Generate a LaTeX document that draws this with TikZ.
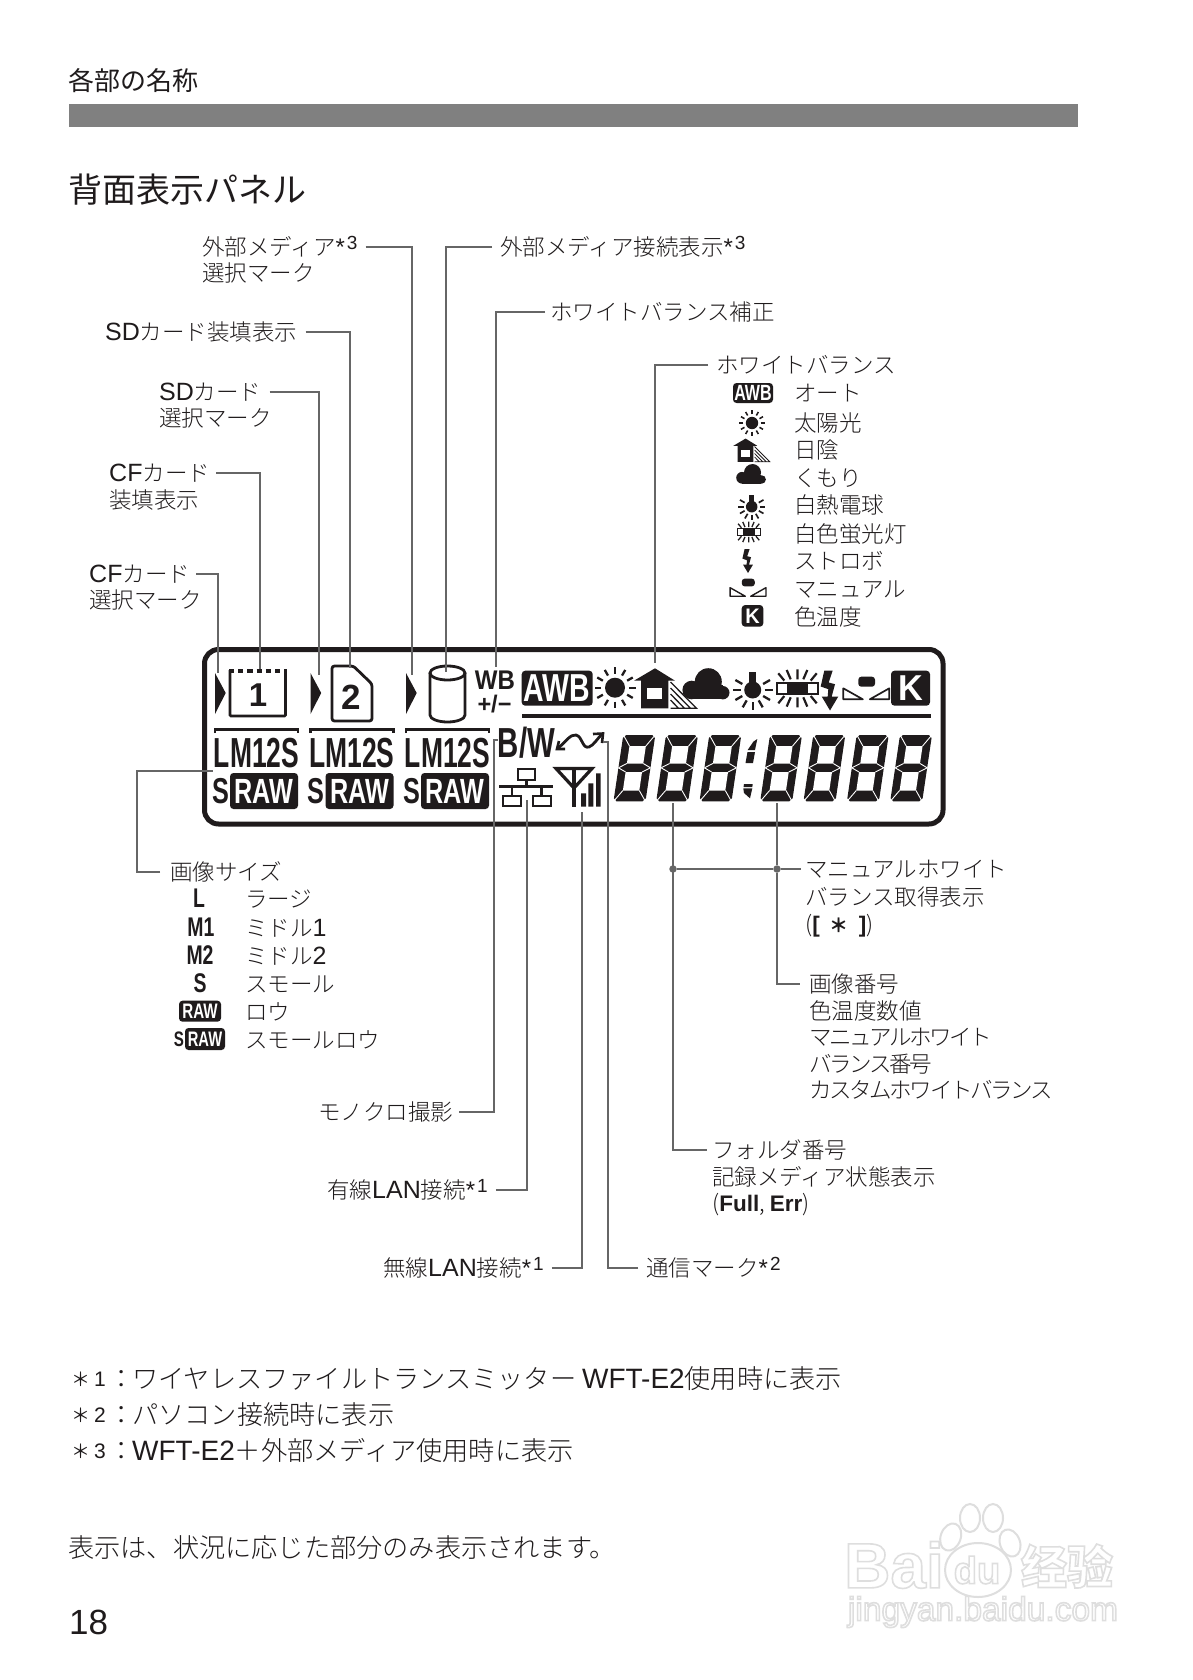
\documentclass[tikz,border=0pt]{standalone}
\usepackage{fontspec}
\usepackage{graphicx}
\usetikzlibrary{calc}
\setsansfont{Liberation Sans}
\newfontfamily\jp{Noto Sans CJK JP Light}
\newfontfamily\jpt[LetterSpace=-10.5]{Noto Sans CJK JP Light}
\newfontfamily\jpr{Noto Sans CJK JP}
\definecolor{conncol}{HTML}{666666}
\definecolor{ink}{HTML}{1F1B1C}
\definecolor{wm}{HTML}{DEDEDE}
\tikzset{
 lab/.style={anchor=west,inner sep=0pt,text height=19.8pt,text depth=2.7pt,text=ink,font=\jp\fontsize{22.5}{22.5}\selectfont},
 foot/.style={anchor=west,inner sep=0pt,text height=23pt,text depth=3.2pt,text=ink,font=\jp\fontsize{26.2}{26.2}\selectfont},
 conn/.style={draw=conncol,line width=1.5pt},
 jdot/.style={circle,fill=conncol,inner sep=0pt,minimum size=7.5pt},
 glyph/.style={inner sep=0pt,text=ink},
 wglyph/.style={inner sep=0pt,text=white},
}
\newcommand{\cond}[3]{\scalebox{#2}[1]{\fontsize{#1}{#1}\selectfont\sffamily\bfseries #3}}
\newcommand{\upn}[1]{{\sffamily\fontsize{24}{24}\selectfont *\hspace{2pt}\raisebox{.26em}{\fontsize{19}{19}\selectfont #1}}}
\newcommand{\lat}[1]{{\sffamily\fontsize{25}{25}\selectfont #1}}
\newcommand{\flatin}[1]{{\sffamily\fontsize{28}{28}\selectfont #1}}
\newcommand{\tbox}[7]{\fill[ink,rounded corners=3.5pt] (#1,#2) rectangle (#3,#4);
 \node[wglyph] at ({(#1+#3)/2},{(#2+#4)/2}) {\cond{#5}{#6}{#7}};}
\newcommand{\icsun}[3]{\begin{scope}[shift={(#1,#2)},scale=#3]
 \fill[ink] (0,0) circle (10);
 \foreach \a in {0,30,...,330}{\draw[ink,line width={2pt*#3+.3pt}] (\a:14)--(\a:20.5);}
 \end{scope}}
\newcommand{\ichouse}[3]{\begin{scope}[shift={(#1,#2)},scale=#3]
 \fill[ink] (-10.5,-19.7)--(9.5,-7.3)--(2.8,-7.3)--(2.8,20.3)--(-24.5,20.3)--(-24.5,-7.3)--(-31.5,-7.3)--cycle;
 \fill[white] (-18.2,-.3) rectangle (-3.8,11.3);
 \draw[ink,line width={1.1pt*#3+.2pt}] (5,-6)--(31,20.3)--(5,20.3) (5,0)--(25,20.3) (5,6)--(19,20.3) (5,12)--(13,20.3);
 \end{scope}}
\newcommand{\iccloud}[3]{\begin{scope}[shift={(#1,#2)},scale=#3]
 \fill[ink] (1.3,-2.3) circle (13.5) (-15.3,6) circle (9.3) (15.8,8.7) circle (6.7);
 \fill[ink] (-15,1) rectangle (15.5,15.3);
 \end{scope}}
\newcommand{\icbulb}[3]{\begin{scope}[shift={(#1,#2)},scale=#3]
 \fill[ink] (0,0) circle (8.5);
 \fill[ink] (-3.5,-17.7) rectangle (3.5,-5);
 \foreach \a in {0,30,60,90,120,150,180,-30,-150}{\draw[ink,line width={2pt*#3+.3pt}] (\a:12)--(\a:20);}
 \end{scope}}
\newcommand{\icfluor}[3]{\begin{scope}[shift={(#1,#2)},scale=#3]
 \draw[ink,line width={1.8pt*#3+.2pt}] (-20.8,-5.7) rectangle (20.8,5.7);
 \fill[ink] (-10.8,-5.7) rectangle (10.8,5.7);
 \foreach \s in {1,-1}{\draw[ink,line width={2pt*#3+.2pt}] (-19.2,\s*15)--(-13.2,\s*7.7) (-10.8,\s*18.3)--(-6.8,\s*9) (0,\s*19)--(0,\s*9) (9.8,\s*18.3)--(5.8,\s*9) (19.2,\s*15)--(13.2,\s*7.7);}
 \end{scope}}
\newcommand{\icflash}[3]{\begin{scope}[shift={(#1,#2)},scale=#3]
 \fill[ink] (-5.7,-20)--(2.7,-20)--(-1.3,-8)--(5,-6.3)--(1.7,6)--(8.3,6)--(0,20)--(-8.3,6)--(-2.3,6)--(-1.7,-1.3)--(-9.3,-4)--cycle;
 \end{scope}}
\newcommand{\icman}[3]{\begin{scope}[shift={(#1,#2)},scale=#3]
 \fill[ink,rounded corners=3pt] (-8,-13.3) rectangle (8.7,-3.3);
 \draw[ink,line width={1.5pt*#3+.2pt},line join=round] (-23,-1.7)--(-3.5,9.3)--(-23,9.3)--cycle (3.5,9.3)--(23,-1.7)--(23,9.3)--cycle;
 \end{scope}}
\newcommand{\segdigit}[1]{\begin{scope}[shift={(#1+10,735)},xslant=.148]
 \fill[ink] (3,0)--(29,0)--(32,3)--(32,63.3)--(29,66.3)--(3,66.3)--(0,63.3)--(0,3)--cycle;
 \fill[white] (7.8,11)--(24.2,11)--(24.2,28.5)--(7.8,28.5)--cycle (7.8,37)--(24.2,37)--(24.2,55.5)--(7.8,55.5)--cycle;
 \draw[white,line width=.9pt] (0.5,.5)--(7.8,11) (31.5,.5)--(24.2,11) (.5,65.8)--(7.8,55.5) (31.5,65.8)--(24.2,55.5)
   (0,32.8)--(7.8,28.5) (0,32.8)--(7.8,37) (32,32.8)--(24.2,28.5) (32,32.8)--(24.2,37);
 \end{scope}}
\newcommand{\wmtext}[4]{\node[inner sep=0pt,text=wm] (#1) at (#2,#3) {\special{pdf:code 1 Tr 1.6 w}#4\special{pdf:code 0 Tr}};}
\begin{document}
\begin{tikzpicture}[x=1pt,y=-1pt]
\useasboundingbox (0,0) rectangle (1192,1680);
\fill[white] (0,0) rectangle (1192,1680);
% header
\node[anchor=west,inner sep=0pt,text=ink,font=\jpr\fontsize{26}{26}\selectfont] (hdr) at (68,81) {各部の名称};
\fill[black!50] (69,104.3) rectangle (1077.7,127.5);
\node[anchor=west,inner sep=0pt,text=ink,font=\jpr\fontsize{34}{34}\selectfont] (ttl) at (68,190) {背面表示パネル};
% panel
\draw[ink,line width=5pt,rounded corners=14pt] (204.5,649.5) rectangle (943,824);
% three card groups
\foreach \ox in {0,95.5,191}{
 \begin{scope}[shift={(\ox,0)}]
 \fill[ink] (215,673)--(225.7,693)--(215,714)--cycle;
 \draw[ink,line width=2.3pt] (215,733)--(215,729.5)--(298,729.5)--(298,733);
 \node[glyph] at (256.5,753) {\cond{42}{.63}{LM12S}};
 \node[glyph] at (220.5,791) {\cond{36}{.70}{S}};
 \tbox{230}{773}{298}{809}{35}{.72}{RAW}
 \end{scope}
}
% CF icon
\draw[ink,line width=2.6pt,rounded corners=1pt] (230,670)--(230,716)--(285.5,716)--(285.5,670);
\draw[ink,line width=4pt,dash pattern=on 5.2pt off 4pt] (229,671) -- (287,671);
\node[glyph] (cfn) at (258,695) {\fontsize{33}{33}\selectfont\sffamily\bfseries 1};
% SD icon
\draw[ink,line width=2.8pt,rounded corners=2.5pt] (332,666)--(353.3,666)--(372,684)--(372,721)--(332,721)--cycle;
\node[glyph] (sdn) at (351,697) {\fontsize{35}{35}\selectfont\sffamily\bfseries 2};
% cylinder
\draw[ink,line width=2.8pt] (447.5,673) ellipse (17.5 and 7);
\draw[ink,line width=2.8pt] (430,673)--(430,715) arc[start angle=180,end angle=0,x radius=17.5,y radius=7]--(465,673);
% WB
\node[glyph] (wbt) at (495,680.5) {\cond{27}{.89}{WB}};
\node[glyph] (wbp) at (494.5,704) {\cond{24}{.98}{+/−}};
% white balance row
\tbox{521.7}{670.7}{592.7}{705.7}{39}{.73}{AWB}
\draw[ink,line width=3.4pt] (522,716)--(931,716);
\icsun{615}{687.7}{1}
\ichouse{665.5}{688}{1}
\iccloud{707}{684}{1}
\icbulb{752.7}{690}{1}
\icfluor{797.5}{688.3}{1}
\icflash{830}{690.5}{1}
\icman{866.3}{690}{1}
\tbox{891}{670.7}{930}{705.7}{36}{.95}{K}
% B/W
\node[glyph] (bw) at (526.5,743) {\cond{42}{.7}{B/W}};
% comm mark
\draw[ink,line width=2.8pt,line cap=round,line join=round] (558,748) .. controls (566,742) and (570,734) .. (576,735) .. controls (583,737) and (582,749) .. (589,747) .. controls (594,745) and (597,739) .. (602,734);
\draw[ink,line width=2.6pt] (565,749)--(557,749)--(559,741) (593,734)--(603,733.5)--(602,743);
% LAN mark
\draw[ink,line width=2.5pt] (518,769) rectangle (535,780) (503,796) rectangle (521,806) (533,796) rectangle (551,806);
\draw[ink,line width=2.5pt] (526.7,780)--(526.7,786.7) (499.3,786.7)--(553.3,786.7) (512,786.7)--(512,796) (541.7,786.7)--(541.7,796);
% antenna
\draw[ink,line width=3.2pt,line join=miter] (556,768.5)--(592,768.5)--(574,788)--cycle;
\draw[ink,line width=4pt] (574,768)--(574,807);
\fill[ink] (581,793.3) rectangle (586,806.7) (588.3,783.3) rectangle (593.3,806.7) (596,773.3) rectangle (600.7,806.7);
% digits
\foreach \dx in {613.3,656,699.3,760,803.3,846.7,890}{\segdigit{\dx}}
\fill[ink] (757.3,739)--(755,750)--(747.7,750)--(753.3,741.7)--cycle
 (747.5,752)--(755,752)--(753,763)--(745.5,763)--cycle
 (744,784)--(752.7,784)--(752.3,787)--(743.5,787)--cycle
 (743.3,788.3)--(752.3,788.3)--(750,798.3)--(744,793)--cycle;
% connector targets
\coordinate (txm) at (412,675);
\coordinate (txc) at (446,672);
\coordinate (twb) at (496,667);
\coordinate (tsdc) at (350,668);
\coordinate (tsds) at (319,675);
\coordinate (tcfc) at (260,669);
\coordinate (tcfs) at (218,673);
\coordinate (twbal) at (655,663);
\coordinate (tsize) at (213,771);
\coordinate (tbwv) at (494,740);
\coordinate (tbw) at (498,740);
\coordinate (tlan) at (527,800);
\coordinate (twl) at (582,812);
\coordinate (tcomv) at (608,742);
\coordinate (tcom) at (603,742);
\coordinate (tfold) at (673,803);
\coordinate (timg) at (777,803);
% labels
\node[lab] (lxm) at (202,247) {外部メディア\upn{3}};
\node[lab] (lxm2) at (202,273) {選択マーク};
\node[lab] (lxc) at (500,247) {外部メディア接続表示\upn{3}};
\node[lab] (lwb) at (550,312) {ホワイトバランス補正};
\node[lab] (lsdc) at (105,332) {\lat{SD}カード装填表示};
\node[lab] (lsds) at (159,392) {\lat{SD}カード};
\node[lab] (lsds2) at (159,418) {選択マーク};
\node[lab] (lcfc) at (109,473) {\lat{CF}カード};
\node[lab] (lcfc2) at (109,500) {装填表示};
\node[lab] (lcfs) at (89,574) {\lat{CF}カード};
\node[lab] (lcfs2) at (89,600) {選択マーク};
\node[lab] (lwbal) at (716,365) {ホワイトバランス};
\draw[conn] ([xshift=8pt]lxm.east) -| (txm);
\draw[conn] ([xshift=-8pt]lxc.west) -| (txc);
\draw[conn] ([xshift=-5pt]lwb.west) -| (twb);
\draw[conn] ([xshift=8pt]lsdc.east) -| (tsdc);
\draw[conn] ([xshift=8pt]lsds.east) -| (tsds);
\draw[conn] ([xshift=6pt]lcfc.east) -| (tcfc);
\draw[conn] ([xshift=6pt]lcfs.east) -| (tcfs);
\draw[conn] ([xshift=-8pt]lwbal.west) -| (twbal);
% white balance list
\foreach \n/\y/\t in {a/393/オート,b/423/太陽光,c/450/日陰,d/478/くもり,e/505/白熱電球,f/534/白色蛍光灯,g/561/ストロボ,h/589/マニュアル,i/617/色温度}{
 \node[lab] (wb\n) at (794,\y) {\t};
}
\tbox{733}{383}{773}{403}{22}{.73}{AWB}
\icsun{752}{423}{.62}
\ichouse{751.7}{450}{.58}
\iccloud{751.7}{474}{.63}
\icbulb{751.7}{506.7}{.68}
\icfluor{748.7}{532}{.55}
\icflash{748}{561}{.6}
\icman{748}{589}{.78}
\tbox{741.7}{605}{763.3}{626.7}{21}{.95}{K}
% image size
\node[lab] (lsize) at (170,872) {画像サイズ};
\draw[conn] ([xshift=-10pt]lsize.west) -| (137,771) -- (tsize);
\foreach \n/\y/\t in {a/899/ラージ,b/928/ミドル\lat{1},c/956/ミドル\lat{2},d/984/スモール,e/1012/ロウ,f/1040/スモールロウ}{
 \node[lab] (sz\n) at (245,\y) {\t};
}
\node[glyph] (szl) at (199,898) {\cond{27}{.72}{L}};
\node[glyph] (szm1) at (201,927) {\cond{27}{.72}{M1}};
\node[glyph] (szm2) at (200,955) {\cond{27}{.72}{M2}};
\node[glyph] (szs) at (200,983) {\cond{27}{.72}{S}};
\tbox{179}{1000.7}{221}{1021.7}{21}{.72}{RAW}
\node[glyph] (szss) at (179,1039) {\cond{21}{.72}{S}};
\tbox{185}{1028}{225}{1050}{21}{.7}{RAW}
% lower connectors
\node[lab] (lbw) at (318,1112) {モノクロ撮影};
\draw[conn] ([xshift=6pt]lbw.east) -| (tbwv) -- (tbw);
\node[lab] (llan) at (327,1190) {有線\lat{LAN}接続\upn{1}};
\draw[conn] ([xshift=8pt]llan.east) -| (tlan);
\node[lab] (lwl) at (383,1268) {無線\lat{LAN}接続\upn{1}};
\draw[conn] ([xshift=8pt]lwl.east) -| (twl);
\node[lab] (lcom) at (646,1268) {通信マーク\upn{2}};
\draw[conn] ([xshift=-8pt]lcom.west) -| (tcomv) -- (tcom);
% right block
\node[lab] (lman) at (805,869) {マニュアルホワイト};
\node[lab] (lman2) at (805,897) {バランス取得表示};
\node[lab] (lman3) at (805,924) {({\sffamily\bfseries [ \,{\jpr\fontsize{19}{19}\selectfont ＊}\, ]})};
\node[lab] (limg) at (809,984) {画像番号};
\node[lab] (limg2) at (809,1011) {色温度数値};
\node[lab] (limg3) at (809,1037) {\jpt\fontsize{22.5}{22.5}\selectfont マニュアルホワイト};
\node[lab] (limg4) at (809,1064) {\jpt\fontsize{22.5}{22.5}\selectfont バランス番号};
\node[lab] (limg5) at (809,1090) {\jpt\fontsize{22.5}{22.5}\selectfont カスタムホワイトバランス};
\node[lab] (lfold) at (712,1150) {フォルダ番号};
\node[lab] (lfold2) at (712,1177) {記録メディア状態表示};
\node[lab] (lfold3) at (712,1203) {({\sffamily\bfseries Full}, {\sffamily\bfseries Err})};
\node[jdot] (d1) at (673,869) {};
\node[jdot] (d2) at (777,869) {};
\draw[conn] (d1) -- (d2) -- ([xshift=-4pt]lman.west);
\draw[conn] (timg) -- (d2);
\draw[conn] (d2) |- ([xshift=-9pt]limg.west);
\draw[conn] (tfold) |- ([xshift=-5pt]lfold.west);
% footnotes
\foreach \n/\y/\d/\t in {a/1379/1/ワイヤレスファイルトランスミッター \flatin{WFT-E2}使用時に表示,b/1415/2/パソコン接続時に表示,c/1451/3/\flatin{WFT-E2}＋外部メディア使用時に表示}{
 \node[anchor=center,inner sep=0pt,text=ink,font=\jpr\fontsize{19}{19}\selectfont] (fa\n) at (81,\y) {＊};
 \node[anchor=center,inner sep=0pt,text=ink,font=\sffamily\fontsize{21}{21}\selectfont] (fb\n) at (100,\y) {\d};
 \node[foot] (fc\n) at (108,\y) {：};
 \node[foot] (fd\n) at (132,\y) {\t};
}
\node[foot] (note) at (68,1548) {表示は、状況に応じた部分のみ表示されます。};
\node[anchor=west,inner sep=0pt,text=ink,font=\sffamily\fontsize{35}{35}\selectfont] (pg) at (69,1622) {18};
% watermark
\wmtext{wbai}{894}{1565}{\cond{64}{1}{Bai}}
\draw[wm,line width=2pt,fill=white,rotate around={-20:(950.7,1537)}] (950.7,1537) ellipse (10 and 14);
\draw[wm,line width=2pt,fill=white] (970,1518) ellipse (10 and 14);
\draw[wm,line width=2pt,fill=white] (993,1518) ellipse (10 and 14);
\draw[wm,line width=2pt,fill=white,rotate around={20:(1010,1543)}] (1010,1543) ellipse (10 and 14);
\draw[wm,line width=2pt,fill=white] (978,1570) ellipse (33 and 27);
\wmtext{wdu}{977}{1570}{\fontsize{38}{38}\selectfont\sffamily\bfseries du}
\wmtext{wjy}{1067}{1566}{\jpr\bfseries\fontsize{46}{46}\selectfont 经验}
\wmtext{wurl}{983}{1612}{\resizebox{270pt}{!}{\fontsize{34}{34}\selectfont\sffamily jingyan.baidu.com}}
\end{tikzpicture}
\end{document}
